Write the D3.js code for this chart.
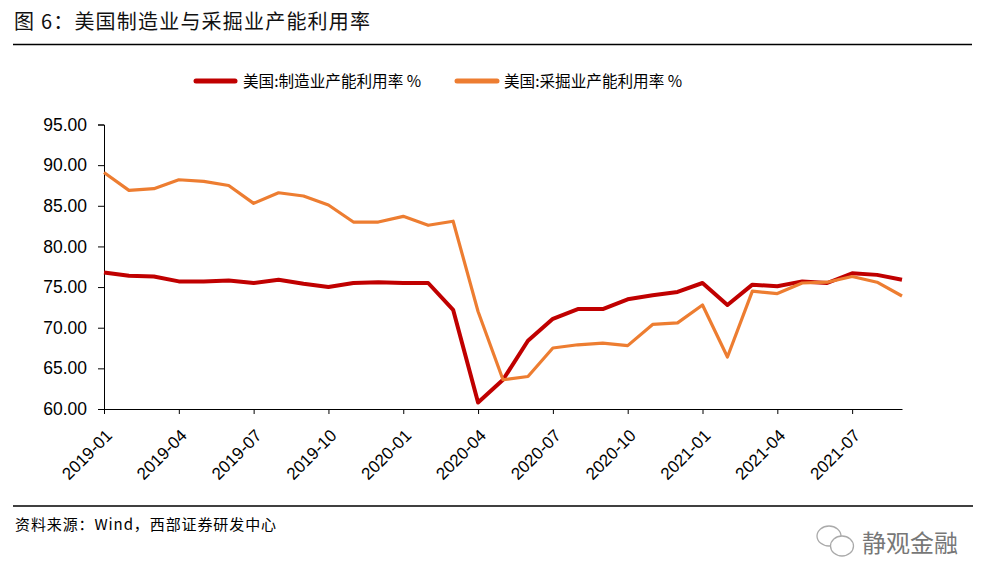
<!DOCTYPE html>
<html><head><meta charset="utf-8">
<script src="https://cdn.jsdelivr.net/npm/d3@7"></script>
<style>
html,body{margin:0;padding:0;background:#fff;}
svg{display:block;}
</style></head>
<body>
<svg id="c" width="989" height="585"></svg>
<script>
const months = ["2019-01","2019-02","2019-03","2019-04","2019-05","2019-06","2019-07","2019-08","2019-09","2019-10","2019-11","2019-12",
"2020-01","2020-02","2020-03","2020-04","2020-05","2020-06","2020-07","2020-08","2020-09","2020-10","2020-11","2020-12",
"2021-01","2021-02","2021-03","2021-04","2021-05","2021-06","2021-07","2021-08","2021-09"];
const manufacturing = [76.8,76.4,76.3,75.7,75.7,75.8,75.5,75.9,75.4,75.0,75.5,75.6,
75.5,75.5,72.2,60.8,63.6,68.4,71.1,72.3,72.3,73.5,74.0,74.4,
75.5,72.8,75.3,75.1,75.7,75.5,76.7,76.5,75.9];
const mining = [89.1,86.9,87.1,88.2,88.0,87.5,85.3,86.6,86.2,85.1,83.0,83.0,
83.7,82.6,83.1,72.0,63.6,64.0,67.5,67.9,68.1,67.8,70.4,70.6,
72.8,66.4,74.5,74.2,75.5,75.6,76.3,75.6,73.9];
const yTicks = [60,65,70,75,80,85,90,95];
const xTickLabels = ["2019-01","2019-04","2019-07","2019-10","2020-01","2020-04","2020-07","2020-10","2021-01","2021-04","2021-07"];
const seriesNames = ["美国:制造业产能利用率 %","美国:采掘业产能利用率 %"];
const colors = ["#C00000","#ED7D31"];

const svg = d3.select("#c");
const latin = "'Liberation Sans', Arial, sans-serif";
const cjk = "'Noto Sans CJK SC', sans-serif";

// title
svg.append("text").attr("x",14).attr("y",29).attr("font-family",cjk).attr("font-size",20)
  .attr("letter-spacing",1.2).attr("fill","#111").text("图 6：美国制造业与采掘业产能利用率");
svg.append("line").attr("x1",13).attr("x2",972).attr("y1",44.5).attr("y2",44.5).attr("stroke","#000").attr("stroke-width",1.5);

// scales
const x = d3.scalePoint().domain(months).range([104,902]);
const y = d3.scaleLinear().domain([60,95]).range([409,124.5]);

// y axis
const ya = svg.append("g").attr("transform","translate(104,0)")
  .call(d3.axisLeft(y).tickValues(yTicks).tickFormat(d3.format(".2f")).tickSize(6).tickPadding(11));
ya.select(".domain").attr("stroke","#000");
ya.selectAll("text").attr("font-family",latin).attr("font-size",17.5).attr("fill","#000");

// x axis
const xa = svg.append("g").attr("transform","translate(0,409)")
  .call(d3.axisBottom(x).tickValues(xTickLabels).tickSize(5).tickSizeOuter(0).tickFormat(d=>d));
xa.select(".domain").attr("stroke","#000");
xa.selectAll("text").attr("font-family",latin).attr("font-size",17).attr("fill","#000")
  .attr("text-anchor","end").attr("dy",0).attr("transform","translate(3,22) rotate(-45)");

// lines
const line = d3.line().x((d,i)=>x(months[i])).y(d=>y(d));
[manufacturing, mining].forEach((s,k)=>{
  svg.append("path").datum(s).attr("d",line).attr("fill","none")
    .attr("stroke",colors[k]).attr("stroke-width",k===0?4:3.2).attr("stroke-linejoin","round");
});

// legend
const lg = [[196,235,243],[457,497,504]];
seriesNames.forEach((n,k)=>{
  svg.append("line").attr("x1",lg[k][0]).attr("x2",lg[k][1]).attr("y1",81).attr("y2",81)
    .attr("stroke",colors[k]).attr("stroke-width",5).attr("stroke-linecap","round");
  svg.append("text").attr("x",lg[k][2]).attr("y",87).attr("font-family",cjk).attr("font-size",15.6)
    .attr("fill","#000").text(n);
});

// bottom
svg.append("line").attr("x1",13).attr("x2",973).attr("y1",506).attr("y2",506).attr("stroke","#000").attr("stroke-width",1.5);
svg.append("text").attr("x",15).attr("y",530).attr("font-family",cjk).attr("font-size",15)
  .attr("letter-spacing",0.9).attr("fill","#000").text("资料来源：Wind，西部证券研发中心");

// watermark
const wm = svg.append("g").attr("fill","#fff").attr("stroke","#aaa").attr("stroke-width",1.3);
wm.append("ellipse").attr("cx",829).attr("cy",536).attr("rx",12).attr("ry",10);
wm.append("ellipse").attr("cx",842).attr("cy",546).attr("rx",11.5).attr("ry",10);
svg.append("text").attr("x",862).attr("y",552).attr("font-family",cjk).attr("font-size",24)
  .attr("fill","#777").text("静观金融");
</script>
</body></html>
